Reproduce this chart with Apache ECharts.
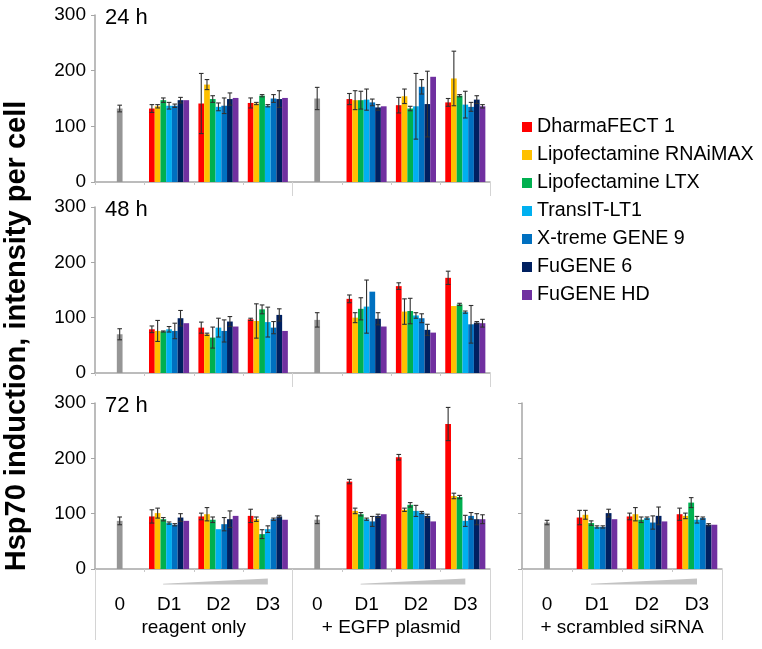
<!DOCTYPE html>
<html><head><meta charset="utf-8">
<script src="https://cdn.jsdelivr.net/npm/echarts@6/dist/echarts.min.js"></script>
<style>html,body{margin:0;padding:0;background:#fff}#c{width:762px;height:649px}</style>
</head><body><div id="c"></div>
<script>
// ---------- data ----------
const reagents = ['DharmaFECT 1', 'Lipofectamine RNAiMAX', 'Lipofectamine LTX', 'TransIT-LT1', 'X-treme GENE 9', 'FuGENE 6', 'FuGENE HD'];
const reagentColors = ['#FF0000', '#FFC000', '#00B050', '#00B0F0', '#0070C0', '#002060', '#7030A0'];
const controlColor = '#969696';
const doseCats = ['0', 'D1', 'D2', 'D3'];
const groupNames = ['reagent only', '+ EGFP plasmid', '+ scrambled siRNA'];
const timeLabels = ['24 h', '48 h', '72 h'];
const yTicks = [0, 100, 200, 300];
const yTitle = 'Hsp70 induction, intensity per cell';

// untreated control (dose 0) per group: [reagent only, EGFP plasmid, scrambled siRNA]
const ctrl24 = [132, 150];
const ctrl24Err = [6, 20];
const ctrl48 = [70, 96];
const ctrl48Err = [10, 13];
const ctrl72 = [87, 89, 84];
const ctrl72Err = [7, 7, 4];

// rows = D1, D2, D3 ; columns = reagents in legend order
const reagentOnly24 = [[132, 136, 147, 137, 137, 147, 147], [141, 175, 149, 135, 137, 149, 151], [142, 141, 155, 137, 150, 149, 151]];
const reagentOnly24Err = [[7, 3, 4, 6, 3, 5, 0], [54, 9, 6, 7, 14, 11, 0], [9, 2, 2, 2, 7, 15, 0]];
const egfp24 = [[149, 147, 147, 148, 143, 134, 136], [138, 154, 132, 136, 171, 140, 189], [143, 186, 155, 139, 135, 148, 136]];
const egfp24Err = [[10, 17, 16, 19, 6, 5, 0], [14, 13, 4, 59, 13, 59, 0], [7, 49, 2, 24, 8, 7, 3]];

const reagentOnly48 = [[79, 76, 75, 79, 76, 99, 90], [82, 70, 64, 82, 76, 93, 84], [97, 94, 115, 92, 82, 105, 76]];
const reagentOnly48Err = [[6, 19, 1, 5, 14, 14, 0], [10, 2, 19, 17, 20, 9, 0], [2, 31, 8, 27, 11, 11, 0]];
const egfp48 = [[134, 100, 116, 120, 147, 98, 84], [157, 111, 112, 104, 99, 78, 73], [172, 121, 124, 110, 88, 91, 90]];
const egfp48Err = [[7, 9, 20, 48, 0, 11, 0], [6, 23, 23, 5, 8, 10, 0], [12, 0, 2, 2, 34, 2, 7]];

const reagentOnly72 = [[95, 101, 90, 83, 80, 93, 87], [95, 99, 89, 72, 81, 90, 96], [96, 90, 63, 72, 90, 95, 89]];
const reagentOnly72Err = [[12, 9, 3, 2, 2, 7, 0], [6, 12, 5, 0, 12, 15, 0], [12, 4, 8, 6, 2, 2, 0]];
const egfp72 = [[158, 105, 99, 90, 86, 96, 99], [202, 107, 116, 105, 102, 96, 86], [262, 132, 130, 87, 96, 90, 90]];
const egfp72Err = [[4, 5, 3, 2, 9, 3, 0], [5, 3, 4, 10, 2, 3, 0], [30, 5, 3, 10, 6, 10, 8]];
const sirna72 = [[93, 98, 83, 76, 76, 101, 90], [95, 99, 89, 92, 84, 96, 86], [99, 96, 120, 89, 92, 80, 80]];
const sirna72Err = [[13, 8, 4, 2, 2, 7, 0], [6, 12, 5, 2, 12, 16, 0], [11, 5, 9, 6, 2, 2, 0]];

// ---------- build ----------
const FONT = '"Liberation Sans", Arial, sans-serif';
const AX = '#a6a6a6';
const BAR_PCT = 0.116;

const panels = [
  { label: timeLabels[0], grid: { left: 95, top: 15, width: 395, height: 167 }, yLabels: true, bottom: false, tickLen: 14,
    groups: [{ c: ctrl24[0], ce: ctrl24Err[0], v: reagentOnly24, e: reagentOnly24Err }, { c: ctrl24[1], ce: ctrl24Err[1], v: egfp24, e: egfp24Err }], names: groupNames.slice(0, 2) },
  { label: timeLabels[1], grid: { left: 95, top: 207, width: 395, height: 166 }, yLabels: true, bottom: false, tickLen: 14,
    groups: [{ c: ctrl48[0], ce: ctrl48Err[0], v: reagentOnly48, e: reagentOnly48Err }, { c: ctrl48[1], ce: ctrl48Err[1], v: egfp48, e: egfp48Err }], names: groupNames.slice(0, 2) },
  { label: timeLabels[2], grid: { left: 95, top: 403, width: 395, height: 166 }, yLabels: true, bottom: true, tickLen: 71,
    groups: [{ c: ctrl72[0], ce: ctrl72Err[0], v: reagentOnly72, e: reagentOnly72Err }, { c: ctrl72[1], ce: ctrl72Err[1], v: egfp72, e: egfp72Err }], names: groupNames.slice(0, 2) },
  { label: null, grid: { left: 522, top: 403, width: 200, height: 166 }, yLabels: false, bottom: true, tickLen: 71,
    groups: [{ c: ctrl72[2], ce: ctrl72Err[2], v: sirna72, e: sirna72Err }], names: groupNames.slice(2, 3) }
];

const grids = [], xAxes = [], yAxes = [], series = [], titles = [];

function errRender(params, api) {
  const cat = api.value(0), val = api.value(1), err = api.value(2), slot = api.value(3);
  if (!err) return null;
  const band = api.size([1, 0])[0];
  const bw = band * BAR_PCT;
  const c = api.coord([cat, val]);
  const x = c[0] + slot * bw;
  const yTop = api.coord([cat, val + err])[1];
  const yBot = api.coord([cat, Math.max(0, val - err)])[1];
  const cap = 2.3;
  const st = { stroke: '#303030', lineWidth: 1.1 };
  return { type: 'group', children: [
    { type: 'line', shape: { x1: x, y1: yTop, x2: x, y2: yBot }, style: st },
    { type: 'line', shape: { x1: x - cap, y1: yTop, x2: x + cap, y2: yTop }, style: st },
    { type: 'line', shape: { x1: x - cap, y1: yBot, x2: x + cap, y2: yBot }, style: st }
  ] };
}

function wedgeRender(params, api) {
  const idx = api.value(0);
  const a = api.coord([idx, 0]);
  const b = api.coord([idx + 2, 0]);
  const band = api.size([1, 0])[0];
  const x0 = a[0] - band * 0.12, x1 = b[0];
  const yb = a[1] + 15.5;
  return { type: 'polygon', shape: { points: [[x0, yb - 0.8], [x1, yb - 6], [x1, yb], [x0, yb]] }, style: { fill: '#c3c3c3' } };
}

panels.forEach((p, gi) => {
  grids.push(Object.assign({ containLabel: false }, p.grid));
  const cats = [];
  p.groups.forEach(() => doseCats.forEach(d => cats.push(d)));
  const yi = yAxes.length;
  yAxes.push({
    gridIndex: gi, type: 'value', min: yTicks[0], max: yTicks[yTicks.length - 1], interval: yTicks[1] - yTicks[0],
    axisLine: { show: true, lineStyle: { color: AX, width: 1.5 } },
    axisTick: { show: true, length: 4, lineStyle: { color: AX } },
    axisLabel: { show: p.yLabels, fontSize: 19, color: '#000', margin: 9, fontFamily: FONT },
    splitLine: { show: false }
  });
  const xMain = xAxes.length;
  xAxes.push({
    gridIndex: gi, type: 'category', data: cats, position: 'bottom',
    axisLine: { show: true, lineStyle: { color: AX, width: 1.5 } },
    axisTick: { show: true, length: 3, lineStyle: { color: '#c8c8c8' } },
    axisLabel: { show: p.bottom, interval: 0, fontSize: 19, color: '#000', margin: 26, fontFamily: FONT }
  });
  const xCtrl = xAxes.length;
  xAxes.push({ gridIndex: gi, type: 'category', data: cats, position: 'bottom', show: false });
  if (p.bottom) {
    xAxes.push({
      gridIndex: gi, type: 'category', data: p.names, position: 'bottom',
      axisLine: { show: false },
      axisTick: { show: true, length: p.tickLen, lineStyle: { color: '#d4d4d4' } },
      axisLabel: { show: true, interval: 0, fontSize: 19, color: '#000', margin: 49, fontFamily: FONT }
    });
  } else {
    // group-boundary ticks only (between and after groups)
    xAxes.push({
      gridIndex: gi, type: 'value', min: 0, max: cats.length, interval: 4, position: 'bottom',
      axisLine: { show: false }, splitLine: { show: false },
      axisTick: { show: true, length: p.tickLen, customValues: [4, 8], lineStyle: { color: '#d4d4d4' } },
      axisLabel: { show: false }
    });
  }

  const errData = [];
  reagents.forEach((name, k) => {
    const data = [];
    p.groups.forEach((g, gIdx) => {
      data.push('-');
      for (let d = 0; d < 3; d++) {
        data.push(g.v[d][k]);
        errData.push([gIdx * 4 + 1 + d, g.v[d][k], g.e[d][k], k - 3]);
      }
    });
    series.push({ type: 'bar', name, xAxisIndex: xMain, yAxisIndex: yi, data, barWidth: (BAR_PCT * 100) + '%', barGap: '0%',
      itemStyle: { color: reagentColors[k] }, animation: false });
  });
  const cdata = [];
  p.groups.forEach((g, gIdx) => {
    cdata.push(g.c, '-', '-', '-');
    errData.push([gIdx * 4, g.c, g.ce, 0]);
  });
  series.push({ type: 'bar', name: 'untreated', xAxisIndex: xCtrl, yAxisIndex: yi, data: cdata, barWidth: (BAR_PCT * 100) + '%',
    itemStyle: { color: controlColor }, animation: false });
  series.push({ type: 'custom', name: 'error', xAxisIndex: xMain, yAxisIndex: yi, data: errData, renderItem: errRender, z: 5, animation: false, silent: true });
  if (p.bottom) {
    series.push({ type: 'custom', name: 'dose', xAxisIndex: xMain, yAxisIndex: yi,
      data: p.groups.map((g, gIdx) => [gIdx * 4 + 1, 0]), renderItem: wedgeRender, animation: false, silent: true });
  }
  if (p.label) {
    titles.push({ text: p.label, left: p.grid.left + 10, top: p.grid.top - 8, padding: 0,
      textStyle: { fontSize: 22, fontWeight: 'normal', color: '#000', fontFamily: FONT } });
  }
});

const chart = echarts.init(document.getElementById('c'));
chart.setOption({
  backgroundColor: '#fff',
  animation: false,
  title: titles,
  grid: grids,
  xAxis: xAxes,
  yAxis: yAxes,
  legend: {
    data: reagents, orient: 'vertical', left: 517, top: 112, icon: 'rect', itemWidth: 10, itemHeight: 10, itemGap: 8,
    textStyle: { fontSize: 19.7, color: '#000', fontFamily: FONT, lineHeight: 20 }
  },
  graphic: [{
    type: 'text', x: 17, y: 336, rotation: Math.PI / 2,
    style: { text: yTitle, font: 'bold 29px "Liberation Sans", Arial, sans-serif', fill: '#000',
      textAlign: 'center', textVerticalAlign: 'middle', align: 'center', verticalAlign: 'middle' }
  }],
  series
});
</script>
</body></html>
